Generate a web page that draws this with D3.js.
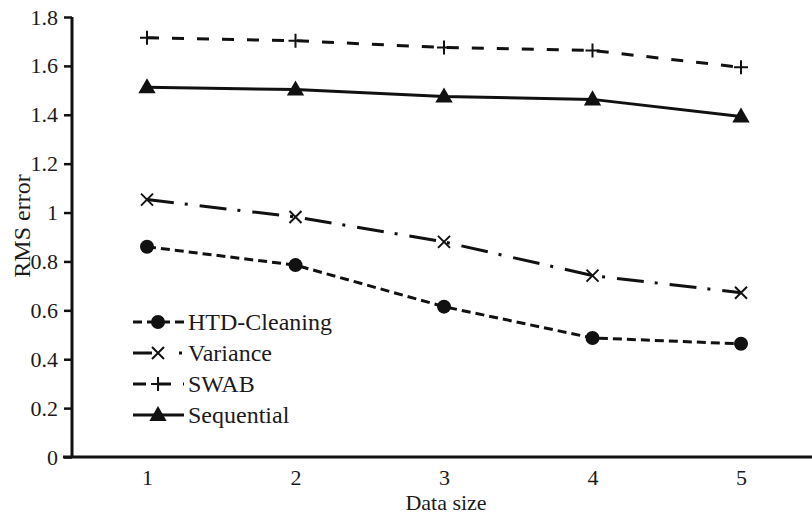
<!DOCTYPE html>
<html>
<head>
<meta charset="utf-8">
<script src="https://cdn.jsdelivr.net/npm/d3@7"></script>
<style>
  body { margin: 0; background: #fff; }
  svg text { font-family: "Liberation Serif", "DejaVu Serif", serif; fill: #1a1a1a; }
</style>
</head>
<body>
<svg id="chart" width="812" height="518"></svg>
<script>
// data
const dataSizes = [1, 2, 3, 4, 5]
const htdCleaning = [0.86, 0.785, 0.615, 0.487, 0.463]
const variance = [1.053, 0.982, 0.88, 0.742, 0.672]
const swab = [1.715, 1.703, 1.675, 1.663, 1.594]
const sequential = [1.513, 1.503, 1.475, 1.463, 1.393]
const yTicks = [0, 0.2, 0.4, 0.6, 0.8, 1, 1.2, 1.4, 1.6, 1.8]

const seriesList = [
  { name: 'HTD-Cleaning', values: htdCleaning, dash: '9,5', legendDash: '9,5', marker: 'circle' },
  { name: 'Variance', values: variance, dash: '27,11,3,12', legendDash: '19,27,3,20', marker: 'x' },
  { name: 'SWAB', values: swab, dash: '12,13', legendDash: '13,12', marker: 'plus' },
  { name: 'Sequential', values: sequential, dash: null, legendDash: null, marker: 'triangle' }
]

const svg = d3.select('#chart')
const ink = '#111'
const serif = '"Liberation Serif", "DejaVu Serif", serif'

// scales
const x = d3.scaleLinear().domain([1, 5]).range([147, 741])
const y = d3.scaleLinear().domain([0, 1.8]).range([457, 17])

// y axis
const yAxis = d3.axisLeft(y)
  .tickValues(yTicks)
  .tickFormat(d => String(+d.toFixed(1)))
  .tickSize(8)
  .tickPadding(6)
const gy = svg.append('g').attr('transform', 'translate(72,0)').call(yAxis)
gy.select('.domain').attr('stroke', ink).attr('stroke-width', 3).attr('d', 'M0,' + y(1.8) + 'V' + y(0))
gy.selectAll('.tick line').attr('stroke', ink).attr('stroke-width', 2.5)
gy.selectAll('.tick text').attr('font-size', 22).attr('fill', '#1a1a1a')
  .style('font-family', serif)

// x axis
const xAxis = d3.axisBottom(x).tickValues(dataSizes).tickFormat(d3.format('d')).tickSize(0).tickPadding(12)
const gx = svg.append('g').attr('transform', 'translate(0,457)').call(xAxis)
gx.select('.domain').attr('stroke', ink).attr('stroke-width', 3).attr('d', 'M63,0H812')
gx.selectAll('.tick text').attr('font-size', 22).attr('fill', '#1a1a1a')
  .style('font-family', serif)

// axis titles
svg.append('text')
  .attr('transform', 'translate(30,226) rotate(-90)')
  .attr('text-anchor', 'middle')
  .attr('font-size', 24)
  .style('font-family', serif)
  .text('RMS error')

svg.append('text')
  .attr('x', 446)
  .attr('y', 510)
  .attr('text-anchor', 'middle')
  .attr('font-size', 22)
  .style('font-family', serif)
  .text('Data size')

// marker drawing
function drawMarker(g, type, cx, cy) {
  if (type === 'circle') {
    g.append('circle').attr('cx', cx).attr('cy', cy).attr('r', 7).attr('fill', ink)
  } else if (type === 'triangle') {
    g.append('path')
      .attr('d', d3.symbol().type(d3.symbolTriangle).size(130)())
      .attr('transform', 'translate(' + cx + ',' + (cy + 1) + ')')
      .attr('fill', ink)
  } else if (type === 'x') {
    g.append('path')
      .attr('d', 'M-6,-6L6,6M-6,6L6,-6')
      .attr('transform', 'translate(' + cx + ',' + cy + ')')
      .attr('stroke', ink).attr('stroke-width', 2).attr('fill', 'none')
  } else if (type === 'plus') {
    g.append('path')
      .attr('d', 'M-7,0H7M0,-7V7')
      .attr('transform', 'translate(' + cx + ',' + cy + ')')
      .attr('stroke', ink).attr('stroke-width', 2).attr('fill', 'none')
  }
}

// lines
const line = d3.line().x((d, i) => x(dataSizes[i])).y(d => y(d))

seriesList.forEach(s => {
  const g = svg.append('g')
  g.append('path')
    .datum(s.values)
    .attr('d', line)
    .attr('fill', 'none')
    .attr('stroke', ink)
    .attr('stroke-width', 3)
    .attr('stroke-dasharray', s.dash)
  s.values.forEach((v, i) => drawMarker(g, s.marker, x(dataSizes[i]), y(v)))
})

// legend
const legendRows = [322, 353, 384, 415]
seriesList.forEach((s, i) => {
  const g = svg.append('g').attr('transform', 'translate(0,' + legendRows[i] + ')')
  g.append('path')
    .attr('d', 'M133,0H184')
    .attr('fill', 'none')
    .attr('stroke', ink)
    .attr('stroke-width', 3)
    .attr('stroke-dasharray', s.legendDash)
  drawMarker(g, s.marker, 158, 0)
  g.append('text')
    .attr('x', 188)
    .attr('y', 8)
    .attr('font-size', 24)
    .style('font-family', serif)
    .text(s.name)
})
</script>
</body>
</html>
